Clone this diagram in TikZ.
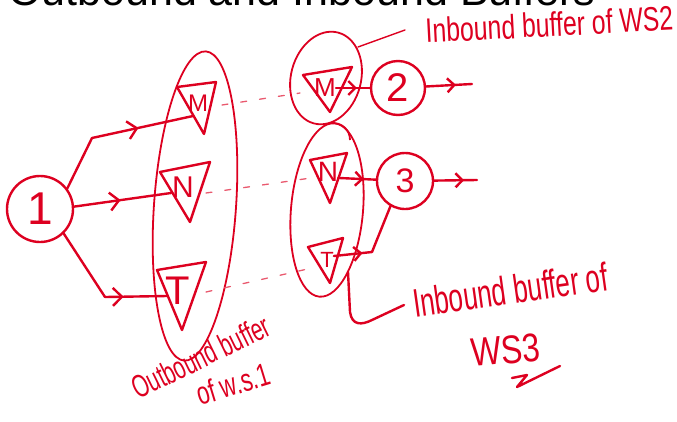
\documentclass[tikz,border=0pt]{standalone}
\usepackage{fontspec}
\usepackage{graphicx}
\setmainfont{Liberation Sans}
\usetikzlibrary{arrows.meta,decorations.markings}
\definecolor{ink}{RGB}{221,0,32}
\newcommand{\hsqueeze}[2]{\scalebox{#1}[1]{#2}}

\tikzset{
  pen/.style={draw=ink, line width=2.4pt, line cap=round, line join=round},
  loopline/.style={draw=ink, line width=1.8pt},
  dashline/.style={draw=ink!65, line width=1.3pt, dash pattern=on 6pt off 13pt, line cap=round},
  hand/.style={text=ink, inner sep=0pt, font=\fontsize{#1pt}{#1pt}\selectfont},
  station/.style={pen, circle, inner sep=0pt, minimum size=#1},
  midarrow/.style={postaction={decorate}, decoration={markings,
      mark=at position #1 with {\arrow{Straight Barb[length=9pt,width=18pt]}}}},
  smallarrow/.style={postaction={decorate}, decoration={markings,
      mark=at position #1 with {\arrow{Straight Barb[length=7pt,width=14pt]}}}},
}

\begin{document}
\begin{tikzpicture}[x=1pt,y=-1pt]
\useasboundingbox (0,0) rectangle (677,421);
\clip (0,0) rectangle (677,421);

% slide heading, cut by the top edge
\node[anchor=base west, inner sep=0pt, font=\fontsize{43pt}{43pt}\selectfont] (heading) at (8,5) {Outbound and Inbound Buffers};

% workstations
\node[station=66pt, hand=46] (w1) at (40,209) {1};
\node[station=54pt, hand=40] (w2) at (398,88) {2};
\node[station=56pt, hand=34] (w3) at (405,181) {3};

% outbound buffer of WS1
\draw[pen] (177,87) -- (216,82) -- (204,134) -- cycle;
\node[hand=24] (m1) at (198,103) {M};
\draw[pen] (160,172) -- (210,162) -- (190,222) -- cycle;
\node[hand=30] (n1) at (183,187) {N};
\draw[pen] (157,270) -- (206,262) -- (182,330) -- cycle;
\node[hand=40] (t1) at (178,291) {T};
\draw[loopline, rotate around={-4:(195,206)}] (195,206) ellipse [x radius=41pt, y radius=155pt];

% inbound buffer of WS2
\draw[loopline, rotate around={-15:(326,78)}] (326,78) ellipse [x radius=35pt, y radius=47pt];
\draw[pen] (303,75) -- (352,67) -- (330,112) -- cycle;
\node[hand=26] (m2) at (325,88) {M};

% inbound buffer of WS3
\draw[loopline, rotate around={-5:(327,210)}] (327,210) ellipse [x radius=36pt, y radius=87pt];
\draw[loopline] (330,123) .. controls (342,122) and (350,130) .. (350,140);
\draw[pen] (310,160) -- (347,153) -- (330,203) -- cycle;
\node[hand=28] (n2) at (328,172) {N};
\draw[pen] (308,247) -- (343,238) -- (330,283) -- cycle;
\node[hand=22] (t2) at (327,260) {T};

% points on the buffer outlines
\coordinate (k1) at (92,138);
\coordinate (k3) at (105,297);
\coordinate (m1l) at (193,116);
\coordinate (n1l) at (171,193);
\coordinate (t1l) at (167,296);
\coordinate (m1r) at (222,105);
\coordinate (m2l) at (300,93);
\coordinate (n1r) at (206,193);
\coordinate (n2l) at (311,178);
\coordinate (t1r) at (206,292);
\coordinate (t2l) at (312,268);
\coordinate (o2) at (472,84);
\coordinate (o3) at (477,180);
\coordinate (k4) at (372,252);

% flow from WS1 into its outbound buffer
\draw[pen] (w1.37) -- (k1);
\draw[pen, midarrow=0.46] (k1) -- (m1l);
\draw[pen, midarrow=0.48] (w1.4) -- (n1l);
\draw[pen] (w1.314) -- (k3);
\draw[pen, midarrow=0.3] (k3) -- (t1l);

% transfer between buffers
\draw[dashline] (m1r) -- (m2l);
\draw[dashline] (n1r) -- (n2l);
\draw[dashline] (t1r) -- (t2l);

% flow into WS2 and WS3
\draw[pen, smallarrow=0.62] (m2.east) -- (w2);
\draw[pen, smallarrow=0.65] (w2) -- (o2);
\draw[pen, smallarrow=0.68] (n2.330) -- (w3);
\draw[pen, smallarrow=0.7] (w3) -- (o3);
\draw[pen, smallarrow=0.75] (t2.30) -- (k4);
\draw[pen] (k4) -- (w3.240);

% callouts
\coordinate (lead2a) at (358,47);
\coordinate (lead2b) at (405,30);
\draw[pen, line width=1.4pt] (lead2a) -- (lead2b);
\coordinate (lead3a) at (348,272);
\coordinate (lead3b) at (404,305);
\draw[pen] (lead3a) -- (350,312) .. controls (352,326) and (362,325) .. (372,320) -- (lead3b);

\node[hand=34, anchor=base west, rotate=3] (cap2) at (426,43) {\hsqueeze{0.73}{Inbound buffer of WS2}};
\node[hand=40, anchor=base west, rotate=8] (cap3) at (415,318) {\hsqueeze{0.65}{Inbound buffer of}};
\node[hand=40, anchor=base west, rotate=5] (cap3b) at (472,367) {\hsqueeze{0.8}{WS3}};
\draw[pen] (512,378) -- (527,375) -- (517,387) -- (560,366);
\node[hand=32, anchor=base west, rotate=26] (cap1) at (138,400) {\hsqueeze{0.65}{Outbound buffer}};
\node[hand=32, anchor=base west, rotate=17] (cap1b) at (200,406) {\hsqueeze{0.7}{of w.s.1}};
\end{tikzpicture}
\end{document}
